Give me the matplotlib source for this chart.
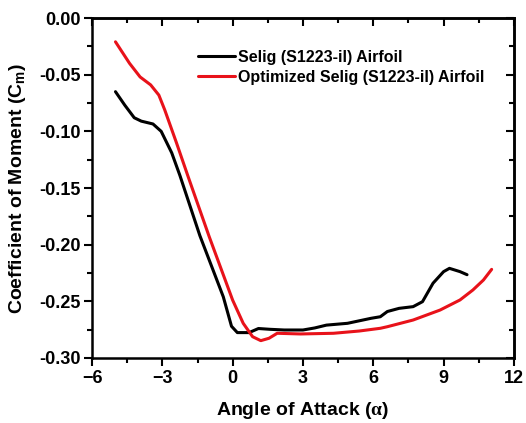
import numpy as np
import matplotlib
matplotlib.use('Agg')
import matplotlib.pyplot as plt
from matplotlib.ticker import MultipleLocator, FormatStrFormatter, NullFormatter

plt.rcParams['font.family'] = ['Liberation Sans', 'DejaVu Sans']
plt.rcParams['font.weight'] = 'bold'
plt.rcParams['mathtext.fontset'] = 'custom'
plt.rcParams['mathtext.rm'] = 'Liberation Serif'
plt.rcParams['mathtext.bf'] = 'Liberation Sans:bold'

# Selig (S1223-il) airfoil
alpha_base = [-5.0, -4.6, -4.2, -3.9, -3.4, -3.05, -2.6, -2.25, -1.4, -0.4, -0.05, 0.2,
              0.7, 1.1, 1.6, 2.2, 3.0, 3.5, 4.0, 4.9, 5.9, 6.3, 6.6, 7.1, 7.7, 8.1,
              8.55, 9.0, 9.25, 9.7, 10.0]
cm_base = [-0.065, -0.077, -0.088, -0.091, -0.0935, -0.100, -0.119, -0.139, -0.192, -0.246,
           -0.272, -0.2776, -0.2776, -0.274, -0.2747, -0.2753, -0.2753, -0.2735, -0.271,
           -0.2694, -0.265, -0.2636, -0.259, -0.2562, -0.2547, -0.2503, -0.234, -0.2238,
           -0.2209, -0.2238, -0.2265]

# optimized airfoil
alpha_opt = [-5.0, -4.4, -3.95, -3.5, -3.15, -2.9, -2.4, -1.9, -1.0, 0.0, 0.45, 0.85, 1.2,
             1.55, 1.9, 2.9, 4.3, 5.4, 6.3, 6.6, 7.7, 8.85, 9.7, 10.25, 10.7, 11.05]
cm_opt = [-0.021, -0.040, -0.052, -0.059, -0.068, -0.081, -0.110, -0.140, -0.193, -0.249,
          -0.2694, -0.2812, -0.2847, -0.2826, -0.2782, -0.2788, -0.2782, -0.2762, -0.2738,
          -0.2724, -0.2665, -0.2577, -0.2488, -0.240, -0.2312, -0.2218]

labels = ['Selig (S1223-il) Airfoil', 'Optimized Selig (S1223-il) Airfoil']

fig = plt.figure(figsize=(5.26, 4.23), dpi=100)
ax = fig.add_axes([0.175, 0.1537, 0.802, 0.8037])

ax.plot(alpha_base, cm_base, color='black', lw=2.2, label=labels[0],
        solid_joinstyle='round', solid_capstyle='round')
ax.plot(alpha_opt, cm_opt, color='#e8121a', lw=2.2, label=labels[1],
        solid_joinstyle='round', solid_capstyle='round')

ax.set_xlim(-6, 12)
ax.set_ylim(-0.30, 0.0)
ax.xaxis.set_major_locator(MultipleLocator(3))
ax.xaxis.set_minor_locator(MultipleLocator(1.5))
ax.yaxis.set_major_locator(MultipleLocator(0.05))
ax.yaxis.set_minor_locator(MultipleLocator(0.025))
ax.yaxis.set_major_formatter(FormatStrFormatter('%.2f'))

# bottom/left ticks point out, top/right point in
ax.tick_params(which='both', direction='out', width=1.5, labelsize=13)
ax.tick_params(which='major', length=6)
ax.tick_params(which='minor', length=3.5)
ax.tick_params(axis='x', which='major', pad=3)
ax.tick_params(axis='y', which='major', pad=2)

top = ax.secondary_xaxis('top')
top.xaxis.set_major_locator(MultipleLocator(3))
top.xaxis.set_minor_locator(MultipleLocator(1.5))
top.xaxis.set_major_formatter(NullFormatter())
right = ax.secondary_yaxis('right')
right.yaxis.set_major_locator(MultipleLocator(0.05))
right.yaxis.set_minor_locator(MultipleLocator(0.025))
right.yaxis.set_major_formatter(NullFormatter())
for sec in (top, right):
    sec.tick_params(which='both', direction='in', width=1.5)
    sec.tick_params(which='major', length=6)
    sec.tick_params(which='minor', length=3.5)
    for s in sec.spines.values():
        s.set_linewidth(1.8)

for s in ax.spines.values():
    s.set_linewidth(1.8)

ax.set_xlabel(r'Angle of Attack ($\mathrm{\alpha}$)', fontsize=14, fontweight='bold',
              labelpad=9)
ax.set_ylabel(r'Coefficient of Moment (C$_\mathbf{m}$)', fontsize=14, fontweight='bold',
              labelpad=8)

ax.legend(loc='upper left', bbox_to_anchor=(0.236, 0.925), frameon=False,
          fontsize=11.5, handlelength=2.3, handletextpad=0.2, labelspacing=0.3,
          borderaxespad=0)

fig.savefig('out.png', dpi=100)
